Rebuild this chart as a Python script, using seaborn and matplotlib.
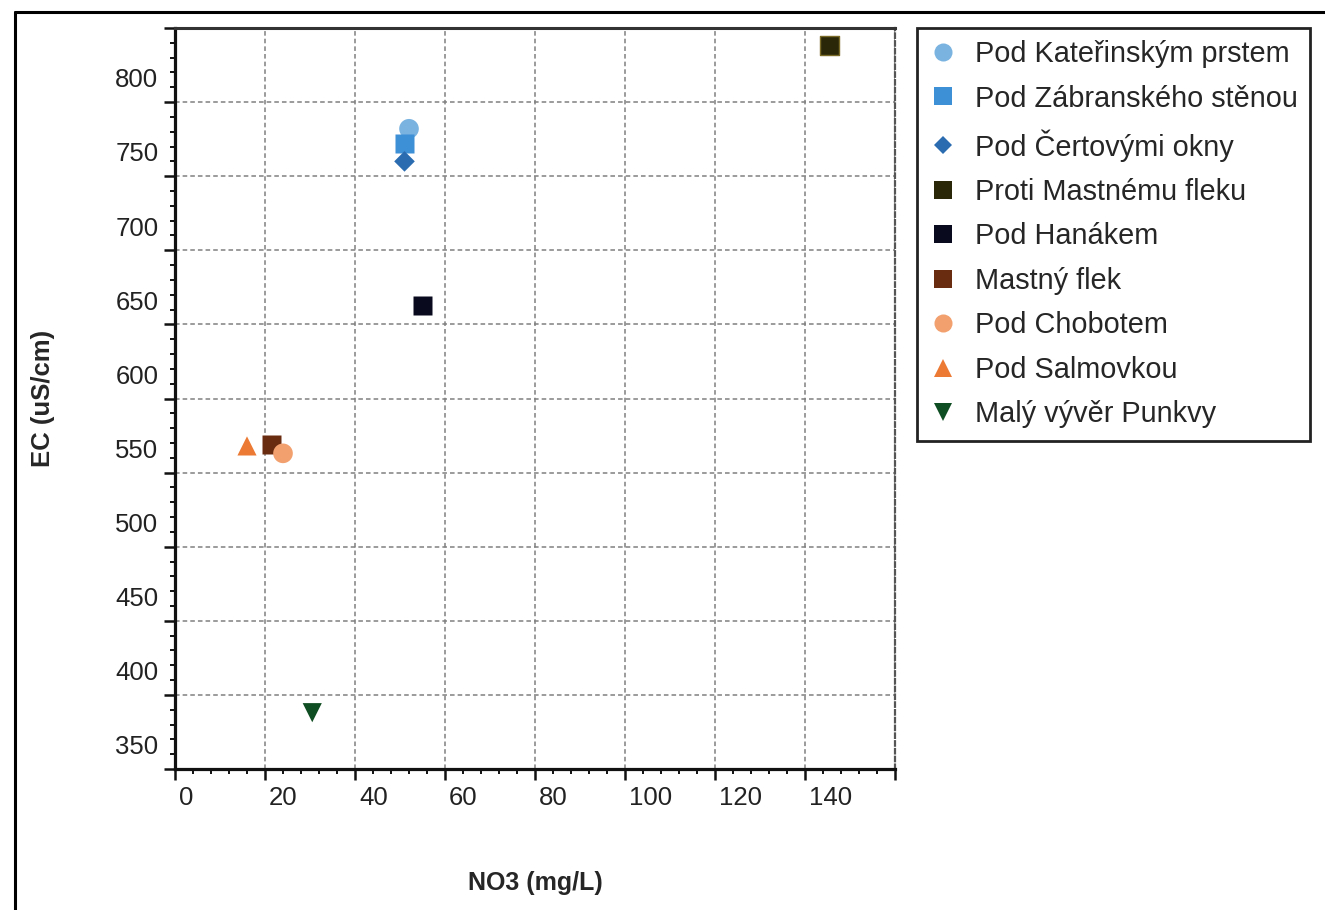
import matplotlib
matplotlib.use("Agg")
import matplotlib.pyplot as plt
import matplotlib.transforms as mtransforms
from matplotlib.lines import Line2D
import pandas as pd
import seaborn as sns

# Values
stations = [
    "Pod Kateřinským prstem",
    "Pod Zábranského stěnou",
    "Pod Čertovými okny",
    "Proti Mastnému fleku",
    "Pod Hanákem",
    "Mastný flek",
    "Pod Chobotem",
    "Pod Salmovkou",
    "Malý vývěr Punkvy",
]
no3 = [52.0, 51.0, 51.0, 145.5, 55.0, 21.5, 24.0, 16.0, 30.5]
ec = [782, 772, 760, 838, 663, 569, 563, 568, 388]

colors = ["#7ab3e0", "#3d8fd6", "#2b6cb0", "#2a2608", "#0a0a1f",
          "#6a2c10", "#f2a06e", "#ec7a35", "#0f4d22"]
markers = ["o", "s", "D", "s", "s", "s", "o", "^", "v"]
marker_area = [200, 190, 110, 190, 190, 190, 200, 190, 190]
legend_msize = [13, 13, 9.5, 13, 13, 13, 13, 13, 13]

x_ticks = [0, 20, 40, 60, 80, 100, 120, 140, 160]
x_labels = ["0", "20", "40", "60", "80", "100", "120", "140", ""]
y_ticks = [350, 400, 450, 500, 550, 600, 650, 700, 750, 800, 850]
y_labels = ["350", "400", "450", "500", "550", "600", "650", "700", "750", "800", ""]

df = pd.DataFrame({"station": stations, "NO3": no3, "EC": ec})

sns.set_style("white")
plt.rcParams["font.family"] = ["Liberation Sans", "DejaVu Sans"]

fig = plt.figure(figsize=(13.25, 9.10), dpi=100)
ax = fig.add_axes([175 / 1325, 1 - 769 / 910, 720 / 1325, 741 / 910])

sns.scatterplot(
    data=df, x="NO3", y="EC", hue="station", style="station",
    hue_order=stations, style_order=stations,
    palette=dict(zip(stations, colors)), markers=dict(zip(stations, markers)),
    s=190, linewidth=0, ax=ax, zorder=3,
)
pts = ax.collections[0]
pts.set_sizes(marker_area)
# dark square gets a faint olive rim
pts.set_edgecolor(["#7a6a28" if c == "#2a2608" else "none" for c in colors])
pts.set_linewidth(1.0)

ax.set_xlim(0, 160)
ax.set_ylim(350, 850)
ax.set_xticks(x_ticks)
ax.set_xticklabels(x_labels)
ax.set_yticks(y_ticks)
ax.set_yticklabels(y_labels)
ax.set_xticks(range(0, 161, 4), minor=True)
ax.set_yticks(range(350, 851, 10), minor=True)

ax.tick_params(which="major", direction="out", length=8, width=1.8,
               color="#111111", labelsize=18.5, labelcolor="#222222",
               bottom=True, left=True, pad=4)
ax.tick_params(which="minor", direction="out", length=3.8, width=1.4,
               color="#111111", bottom=True, left=True)

# labels sit beside the ticks, as in the original export
off_x = mtransforms.ScaledTranslation(3 / 72, 0, fig.dpi_scale_trans)
for lbl in ax.get_xticklabels():
    lbl.set_horizontalalignment("left")
    lbl.set_transform(lbl.get_transform() + off_x)
off_y = mtransforms.ScaledTranslation(0, 7 / 72, fig.dpi_scale_trans)
for lbl in ax.get_yticklabels():
    lbl.set_verticalalignment("bottom")
    lbl.set_transform(lbl.get_transform() + off_y)

ax.grid(True, which="major", color="#808080", linestyle=(0, (3, 2)), linewidth=1.1)
ax.set_axisbelow(True)

for side in ["left", "bottom"]:
    ax.spines[side].set_color("#111111")
    ax.spines[side].set_linewidth(2.3)
ax.spines["top"].set_color("#333333")
ax.spines["top"].set_linewidth(2.2)
ax.spines["right"].set_color("#555555")
ax.spines["right"].set_linestyle((0, (2, 1.5)))
ax.spines["right"].set_linewidth(1.6)

ax.set_xlabel("NO3 (mg/L)", fontsize=18, fontweight="bold", labelpad=44)
ax.set_ylabel("EC (uS/cm)", fontsize=18.5, fontweight="bold", labelpad=43)

handles, labels = ax.get_legend_handles_labels()
for h, ms in zip(handles, legend_msize):
    h.set_markersize(ms)
ax.legend(
    handles, labels, loc="upper left",
    bbox_to_anchor=(917 / 1325, 1 - 28 / 910), bbox_transform=fig.transFigure,
    borderaxespad=0, fontsize=20.8, frameon=True, fancybox=False,
    edgecolor="#222222", framealpha=1, labelspacing=0.57,
    handlelength=0.95, handletextpad=0.65, borderpad=0.42,
)
ax.get_legend().get_frame().set_linewidth(2)

# outer frame of the screenshot (top and left edges visible)
fig.add_artist(Line2D([15 / 1325, 15 / 1325], [0, 1 - 12 / 910],
                      transform=fig.transFigure, color="black", lw=2.2))
fig.add_artist(Line2D([15 / 1325, 1], [1 - 12 / 910, 1 - 12 / 910],
                      transform=fig.transFigure, color="black", lw=2.2))

fig.savefig("out.png", dpi=100)
